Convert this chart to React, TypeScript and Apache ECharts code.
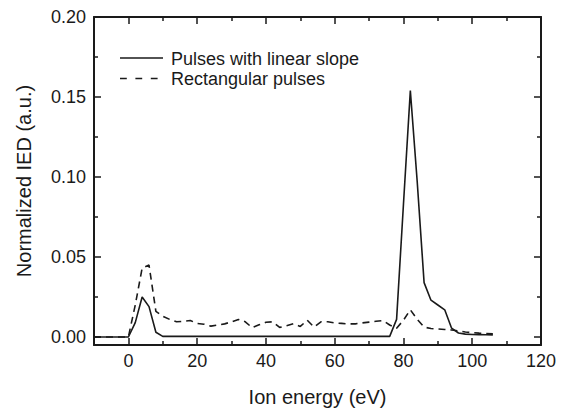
import React, { useEffect, useRef } from "react";
import * as echarts from "echarts";

const energy = [-10, 0, 2, 4, 6, 8, 10, 12, 14, 16, 18, 20, 22, 24, 26, 28, 30, 32, 34, 36, 38, 40, 42, 44, 46, 48, 50, 52, 54, 56, 58, 60, 62, 64, 66, 68, 70, 72, 74, 76, 78, 80, 82, 84, 86, 88, 90, 92, 94, 96, 98, 100, 102, 104, 106];

const linearSlope = [0, 0, 0.009, 0.025, 0.019, 0.003, 0.0004,
  0.0004, 0.0004, 0.0004, 0.0004, 0.0004, 0.0004, 0.0004, 0.0004, 0.0004, 0.0004,
  0.0004, 0.0004, 0.0004, 0.0004, 0.0004, 0.0004, 0.0004, 0.0004, 0.0004, 0.0004,
  0.0004, 0.0004, 0.0004, 0.0004, 0.0004, 0.0004, 0.0004, 0.0004, 0.0004, 0.0004,
  0.0004, 0.0004, 0.0004,
  0.011, 0.083, 0.154, 0.097, 0.034, 0.023, 0.020, 0.017, 0.0055, 0.0025, 0.0018, 0.0016, 0.0015, 0.0014, 0.0013];

const rectangular = [0, 0, 0.02, 0.043, 0.045, 0.016, 0.013,
  0.011, 0.0095, 0.0098, 0.0103, 0.0085,
  0.008, 0.0068, 0.0075, 0.0082, 0.0095,
  0.011, 0.0095, 0.0058, 0.0076, 0.0092,
  0.0095, 0.006, 0.007, 0.0083, 0.0066,
  0.0105, 0.0062, 0.0095, 0.0095, 0.0088,
  0.0085, 0.0082, 0.0082, 0.0088, 0.0093,
  0.0098, 0.0103, 0.0075, 0.0055, 0.0105,
  0.017, 0.011, 0.0062, 0.0053, 0.005,
  0.0047, 0.0044, 0.0038, 0.0031, 0.0027,
  0.0024, 0.0022, 0.002];

const xMajorTicks = [0, 20, 40, 60, 80, 100, 120];
const xMinorTicks = [10, 30, 50, 70, 90, 110];
const yMajorTicks = [0, 0.05, 0.1, 0.15, 0.2];
const yMinorTicks = [0.025, 0.075, 0.125, 0.175];

const seriesNames = ["Pulses with linear slope", "Rectangular pulses"];

const FONT = "Liberation Sans, Arial, sans-serif";
const INK = "#1a1a1a";

export default function App() {
  const ref = useRef<HTMLDivElement>(null);

  useEffect(() => {
    if (!ref.current) return;
    const chart = echarts.init(ref.current, null, { renderer: "svg" });

    const xBase = { type: "value", min: -10, max: 120, splitLine: { show: false } };
    const yBase = { type: "value", min: -0.005, max: 0.2, splitLine: { show: false } };
    const line = { show: true, onZero: false, lineStyle: { color: INK, width: 2 } };
    const noLine = { show: false, onZero: false };
    const majorTick = (vals: number[]) => ({ show: true, inside: true, length: 7, customValues: vals, lineStyle: { color: INK, width: 1.5 } });
    const minorTick = (vals: number[]) => ({ show: true, inside: true, length: 4, customValues: vals, lineStyle: { color: INK, width: 1.5 } });
    const noLabel = { show: false };

    const legendTextStyle = { fontSize: 18, lineHeight: 18, fill: INK, fontFamily: FONT, verticalAlign: "middle", align: "left" };

    chart.setOption({
      animation: false,
      textStyle: { fontFamily: FONT },
      grid: { left: 94, right: 24, top: 17, bottom: 64, containLabel: false },
      graphic: [
        { type: "line", shape: { x1: 120, y1: 58, x2: 163, y2: 58 }, style: { stroke: INK, lineWidth: 1.6 } },
        { type: "text", x: 171, y: 58.5, style: { ...legendTextStyle, text: seriesNames[0] } },
        { type: "line", shape: { x1: 120, y1: 78.5, x2: 163, y2: 78.5 }, style: { stroke: INK, lineWidth: 1.6, lineDash: [6.8, 8.6] } },
        { type: "text", x: 171, y: 79, style: { ...legendTextStyle, text: seriesNames[1] } },
      ],
      xAxis: [
        {
          ...xBase,
          position: "bottom",
          axisLine: line,
          axisTick: majorTick(xMajorTicks),
          axisLabel: { show: true, customValues: xMajorTicks, fontSize: 18, color: INK, margin: 7, fontFamily: FONT },
          name: "Ion energy (eV)",
          nameLocation: "middle",
          nameGap: 42,
          nameTextStyle: { fontSize: 20, color: INK, fontFamily: FONT },
        },
        { ...xBase, position: "bottom", axisLine: noLine, axisTick: minorTick(xMinorTicks), axisLabel: noLabel },
        { ...xBase, position: "top", axisLine: line, axisTick: majorTick(xMajorTicks), axisLabel: noLabel },
        { ...xBase, position: "top", axisLine: noLine, axisTick: minorTick(xMinorTicks), axisLabel: noLabel },
      ],
      yAxis: [
        {
          ...yBase,
          position: "left",
          axisLine: line,
          axisTick: majorTick(yMajorTicks),
          axisLabel: {
            show: true,
            customValues: yMajorTicks,
            fontSize: 18,
            color: INK,
            margin: 8,
            fontFamily: FONT,
            formatter: (v: number) => v.toFixed(2),
          },
          name: "Normalized IED (a.u.)",
          nameLocation: "middle",
          nameGap: 60,
          nameTextStyle: { fontSize: 20, color: INK, fontFamily: FONT },
        },
        { ...yBase, position: "left", axisLine: noLine, axisTick: minorTick(yMinorTicks), axisLabel: noLabel },
        { ...yBase, position: "right", axisLine: line, axisTick: majorTick(yMajorTicks), axisLabel: noLabel },
        { ...yBase, position: "right", axisLine: noLine, axisTick: minorTick(yMinorTicks), axisLabel: noLabel },
      ],
      series: [
        {
          name: seriesNames[0],
          type: "line",
          xAxisIndex: 0,
          yAxisIndex: 0,
          symbol: "none",
          showSymbol: false,
          lineStyle: { color: INK, width: 1.6, type: "solid" },
          itemStyle: { color: INK },
          data: energy.map((e, i) => [e, linearSlope[i]]),
          z: 3,
        },
        {
          name: seriesNames[1],
          type: "line",
          xAxisIndex: 0,
          yAxisIndex: 0,
          symbol: "none",
          showSymbol: false,
          lineStyle: { color: INK, width: 1.6, type: [7, 5] },
          itemStyle: { color: INK },
          data: energy.map((e, i) => [e, rectangular[i]]),
          z: 2,
        },
      ],
    });

    return () => chart.dispose();
  }, []);

  return (
    <div
      ref={ref}
      style={{ position: "fixed", left: 0, top: 0, width: 565, height: 412, background: "#fff" }}
    />
  );
}
